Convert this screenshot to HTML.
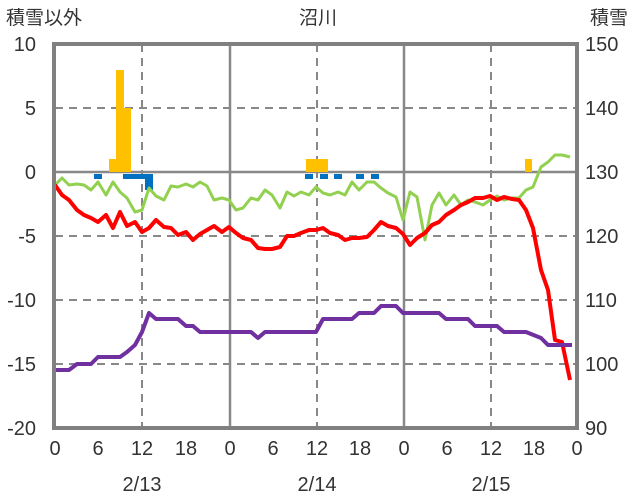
<!DOCTYPE html>
<html><head><meta charset="utf-8"><style>
body{margin:0;background:#fff}
svg{display:block;font-family:"Liberation Sans","Noto Sans CJK JP",sans-serif}
</style></head><body>
<svg width="636" height="501" viewBox="0 0 636 501">
<rect width="636" height="501" fill="#fff"/>
<!-- horizontal grid -->
<g stroke="#888" stroke-width="2" stroke-dasharray="8,6">
<line x1="55" y1="108" x2="577" y2="108"/>
<line x1="55" y1="236" x2="577" y2="236"/>
<line x1="55" y1="300" x2="577" y2="300"/>
<line x1="55" y1="364" x2="577" y2="364"/>
<line x1="142" y1="44" x2="142" y2="428"/>
<line x1="317" y1="44" x2="317" y2="428"/>
<line x1="491" y1="44" x2="491" y2="428"/>
</g>
<g stroke="#888" stroke-width="2.5">
<line x1="230" y1="44" x2="230" y2="428"/>
<line x1="404" y1="44" x2="404" y2="428"/>
<line x1="55" y1="172" x2="577" y2="172"/>
</g>
<!-- bars -->
<g fill="#ffc000">
<rect x="109" y="159" width="8" height="13"/>
<rect x="116" y="70" width="8" height="102"/>
<rect x="123" y="108" width="8" height="64"/>
<rect x="306" y="159" width="22" height="13"/>
<rect x="525" y="159" width="7" height="13"/>
</g>
<g fill="#0070c0">
<rect x="94" y="174" width="8" height="5"/>
<rect x="123" y="174" width="22" height="5"/>
<rect x="145" y="174" width="8" height="16"/>
<rect x="305" y="174" width="8" height="5"/>
<rect x="320" y="174" width="8" height="5"/>
<rect x="334" y="174" width="8" height="5"/>
<rect x="356" y="174" width="8" height="5"/>
<rect x="371" y="174" width="8" height="5"/>
</g>
<!-- green -->
<polyline fill="none" stroke="#92d050" stroke-width="3" stroke-linejoin="round" points="55,185 62,178 69,185 77,184 84,185 91,190 98,182 106,195 113,182 120,192 127,198 135,212 142,210 149,188 156,196 164,200 171,186 178,187 186,184 193,187 200,182 207,186 214,200 222,198 229,200 236,210 243,208 251,198 258,200 265,190 272,195 280,208 287,192 294,196 301,192 309,195 316,187 323,193 330,195 338,192 345,195 352,182 359,190 367,182 374,182 381,188 388,193 396,197 403,220 410,192 417,197 425,240 432,205 439,193 446,205 454,195 461,205 468,200 475,202 483,205 490,200 497,196 504,200 512,198 519,198 526,190 533,187 541,167 548,162 555,155 562,155 570,157"/>
<!-- red -->
<polyline fill="none" stroke="#ff0000" stroke-width="4" stroke-linejoin="round" points="55,185 62,195 69,200 77,210 84,215 91,218 98,222 106,215 113,228 120,212 127,226 135,222 142,232 149,228 156,220 164,227 171,228 178,235 186,232 193,240 200,234 207,230 214,226 222,232 229,227 236,233 243,238 251,240 258,248 265,249 272,249 280,247 287,236 294,236 301,233 309,230 316,230 323,228 330,233 338,235 345,240 352,238 359,238 367,237 374,230 381,222 388,226 396,228 403,234 410,245 417,238 425,233 432,225 439,222 446,215 454,210 461,205 468,202 475,198 483,198 490,196 497,200 504,197 512,199 519,200 526,210 533,228 541,270 548,290 555,340 562,342 570,380"/>
<!-- purple -->
<polyline fill="none" stroke="#7030a0" stroke-width="4" stroke-linejoin="round" points="55,370 69,370 77,364 91,364 98,357 120,357 127,352 135,345 142,332 149,313 156,319 178,319 186,326 193,326 200,332 251,332 258,338 265,332 316,332 323,319 352,319 359,313 374,313 381,306 396,306 403,313 439,313 446,319 468,319 475,326 497,326 504,332 526,332 541,338 548,345 572,345"/>
<!-- frame -->
<rect x="54" y="44" width="523" height="384" fill="none" stroke="#808080" stroke-width="4"/>
<!-- labels -->
<g font-size="19" fill="#333">
<text x="6" y="24">積雪以外</text>
<text x="318" y="24" text-anchor="middle">沼川</text>
<text x="628" y="24" text-anchor="end">積雪</text>
</g>
<g font-size="20" fill="#333" text-anchor="end">
<text x="36" y="51">10</text><text x="36" y="115">5</text><text x="36" y="179">0</text>
<text x="36" y="243">-5</text><text x="36" y="307">-10</text><text x="36" y="371">-15</text><text x="36" y="435">-20</text>
</g>
<g font-size="20" fill="#333" text-anchor="start">
<text x="585" y="51">150</text><text x="585" y="115">140</text><text x="585" y="179">130</text>
<text x="585" y="243">120</text><text x="585" y="307">110</text><text x="585" y="371">100</text><text x="585" y="435">90</text>
</g>
<g font-size="20" fill="#333" text-anchor="middle">
<text x="55" y="455">0</text><text x="98" y="455">6</text><text x="142" y="455">12</text><text x="186" y="455">18</text>
<text x="230" y="455">0</text><text x="273" y="455">6</text><text x="317" y="455">12</text><text x="360" y="455">18</text>
<text x="404" y="455">0</text><text x="447" y="455">6</text><text x="491" y="455">12</text><text x="534" y="455">18</text>
<text x="577" y="455">0</text>
<text x="142" y="491">2/13</text><text x="317" y="491">2/14</text><text x="491" y="491">2/15</text>
</g>
</svg>
</body></html>
